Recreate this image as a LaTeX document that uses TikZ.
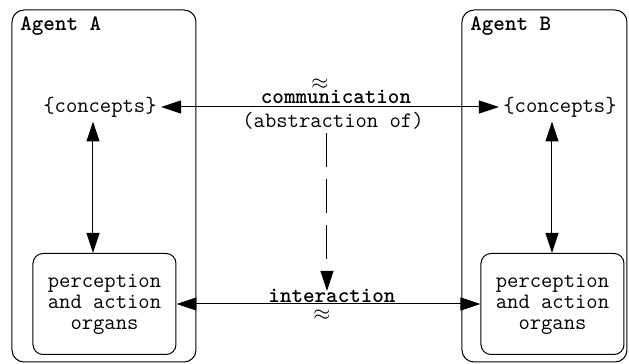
\documentclass[tikz,border=0pt]{standalone}
\usepackage{fontspec}
\usetikzlibrary{arrows.meta,positioning}

\begin{document}
\begin{tikzpicture}[x=0.5pt, y=-0.5pt,
  every node/.style={font=\ttfamily\fontsize{11}{10.5}\selectfont},
  agent/.style={draw, rounded corners=6pt, line width=0.5pt},
  organ/.style={draw, rounded corners=5pt, align=center, minimum width=71.5pt,
                minimum height=50.5pt, inner sep=0pt, line width=0.5pt},
  lbl/.style={font=\ttfamily\bfseries\fontsize{11}{10.5}\selectfont, inner sep=0pt},
  txt/.style={inner sep=0pt},
  tip/.tip={Triangle[length=10pt, width=6.5pt]},
  darr/.style={tip-tip, line width=0.5pt},
  arr/.style={-tip, line width=0.5pt},
]
\useasboundingbox (0,0) rectangle (629,364);

% the two agents
\node[agent, minimum width=92pt, minimum height=176pt] (agA) at (104,186) {};
\node[agent, minimum width=82.5pt, minimum height=176pt] (agB) at (544.5,186) {};
\node[lbl, anchor=base west] (nameA) at (20,31) {Agent A};
\node[lbl, anchor=base west] (nameB) at (470,31) {Agent B};

% concepts and organs
\node[inner sep=2pt] (concA) at (100,107) {\{concepts\}};
\node[inner sep=2pt] (concB) at (560,107) {\{concepts\}};
\node[organ] (orgA) at (104.5,304) {perception\\and action\\organs};
\node[organ] (orgB) at (552.5,304) {perception\\and action\\organs};

% labels in the middle
\node[txt] (apxC) at (320,84) {$\approx$};
\node[lbl] (comm) at (336,97) {communication};
\node[txt] (abst) at (333,121) {(abstraction of)};
\node[lbl] (inter) at (332,296) {interaction};
\node[txt] (apxI) at (322,315) {$\approx$};
\coordinate (dtop) at (327,133);
\coordinate (dbot) at (327,291);

\draw[darr] (concA) -- (concB);
\draw[darr] ([xshift=-3.5pt]concA.south) -- ([xshift=-3.5pt]concA.south |- orgA.north);
\draw[darr] ([xshift=-4pt]concB.south) -- ([xshift=-4pt]concB.south |- orgB.north);
\draw[darr] (orgA) -- (orgB);
\draw[arr, dash pattern=on 17pt off 6pt] (dtop) -- (dbot);
\end{tikzpicture}
\end{document}
